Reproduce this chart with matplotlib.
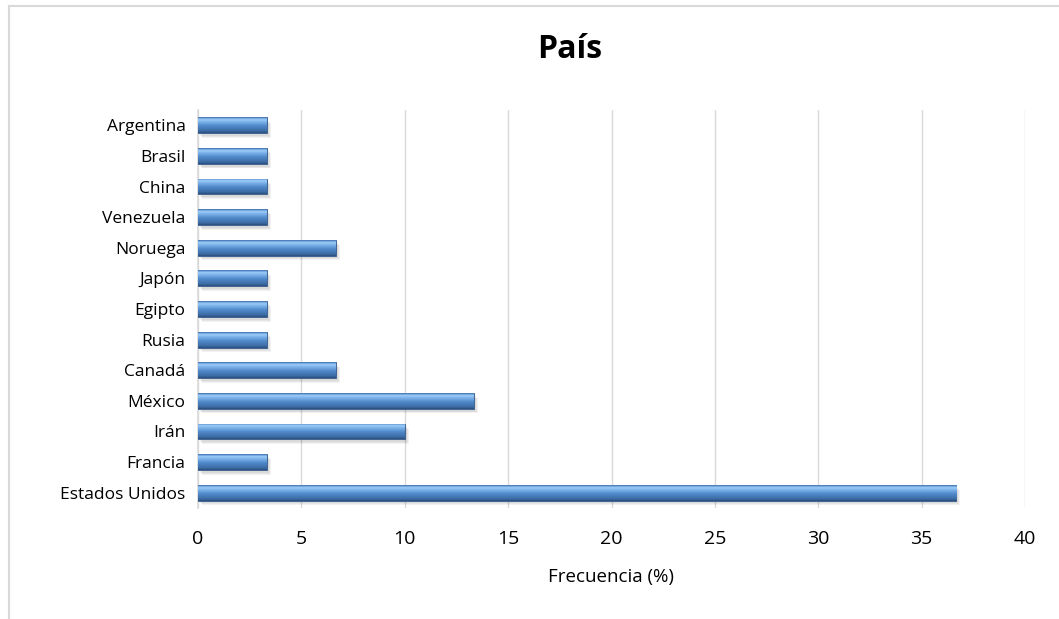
import matplotlib
matplotlib.use("Agg")
import matplotlib.pyplot as plt
import numpy as np
from matplotlib.lines import Line2D
from matplotlib.colors import LinearSegmentedColormap

countries = ["Estados Unidos", "Francia", "Irán", "México", "Canadá", "Rusia", "Egipto",
             "Japón", "Noruega", "Venezuela", "China", "Brasil", "Argentina"]
values = [36.67, 3.33, 10.0, 13.33, 6.67, 3.33, 3.33, 3.33, 6.67, 3.33, 3.33, 3.33, 3.33]
xticks = [0, 5, 10, 15, 20, 25, 30, 35, 40]

plt.rcParams['font.family'] = ['Open Sans', 'DejaVu Sans']

W, H = 1059, 619
fig = plt.figure(figsize=(W / 100, H / 100), dpi=100)
ax = fig.add_axes([198 / W, 1 - 508 / H, (1025 - 198) / W, (508 - 110) / H])

y = np.arange(len(countries))
# soft shadow
for k, a in enumerate([0.05, 0.05, 0.05]):
    ax.barh(y - 0.1 - 0.03 * k, values, height=0.5, left=0.1 + 0.05 * k, color="#000000",
            alpha=a, zorder=2, linewidth=0)
bars = ax.barh(y, values, height=0.52, color="#4a7ebb", edgecolor="#34598a", linewidth=0.6, zorder=3)

cmap = LinearSegmentedColormap.from_list(
    "bevel", [(0.0, "#2b4e7c"), (0.12, "#3c6ba4"), (0.45, "#5089ca"), (0.72, "#80b5ec"),
              (0.85, "#9dccf6"), (0.93, "#6ea3de"), (1.0, "#3d6aa5")])
grad = np.linspace(0, 1, 64).reshape(-1, 1)
for b in bars:
    x0, y0 = b.get_x(), b.get_y()
    w, h = b.get_width(), b.get_height()
    im = ax.imshow(grad, extent=(x0, x0 + w, y0, y0 + h), origin="lower", cmap=cmap,
                   aspect="auto", zorder=4, interpolation="bilinear")
    im.set_clip_path(b)

ax.set_xlim(0, 40)
ax.set_ylim(-0.5, len(countries) - 0.5)
ax.set_xticks(xticks)
ax.set_xticklabels([str(t) for t in xticks], fontsize=14)
ax.set_yticks(y)
ax.set_yticklabels(countries, fontsize=12.5)
ax.tick_params(axis="y", length=0, pad=9)
ax.tick_params(axis="x", length=0, pad=16)
ax.grid(axis="x", color="#d9d9d9", lw=1, zorder=0)
ax.set_axisbelow(True)
for s in ["top", "right", "bottom"]:
    ax.spines[s].set_visible(False)
ax.spines["left"].set_color("#d9d9d9")
ax.spines["left"].set_linewidth(1.2)
ax.set_xlabel("Frecuencia (%)", fontsize=13.5, labelpad=14)

fig.text(570 / W, 1 - 50 / H, "País", ha="center", va="center", fontsize=23, fontweight="bold")

fig.add_artist(Line2D([8.5 / W, 8.5 / W], [0, 1 - 5.5 / H], transform=fig.transFigure, color="#d9d9d9", lw=1.5))
fig.add_artist(Line2D([8.5 / W, 1], [1 - 5.5 / H, 1 - 5.5 / H], transform=fig.transFigure, color="#d9d9d9", lw=1.5))

fig.savefig("out.png", dpi=100)
